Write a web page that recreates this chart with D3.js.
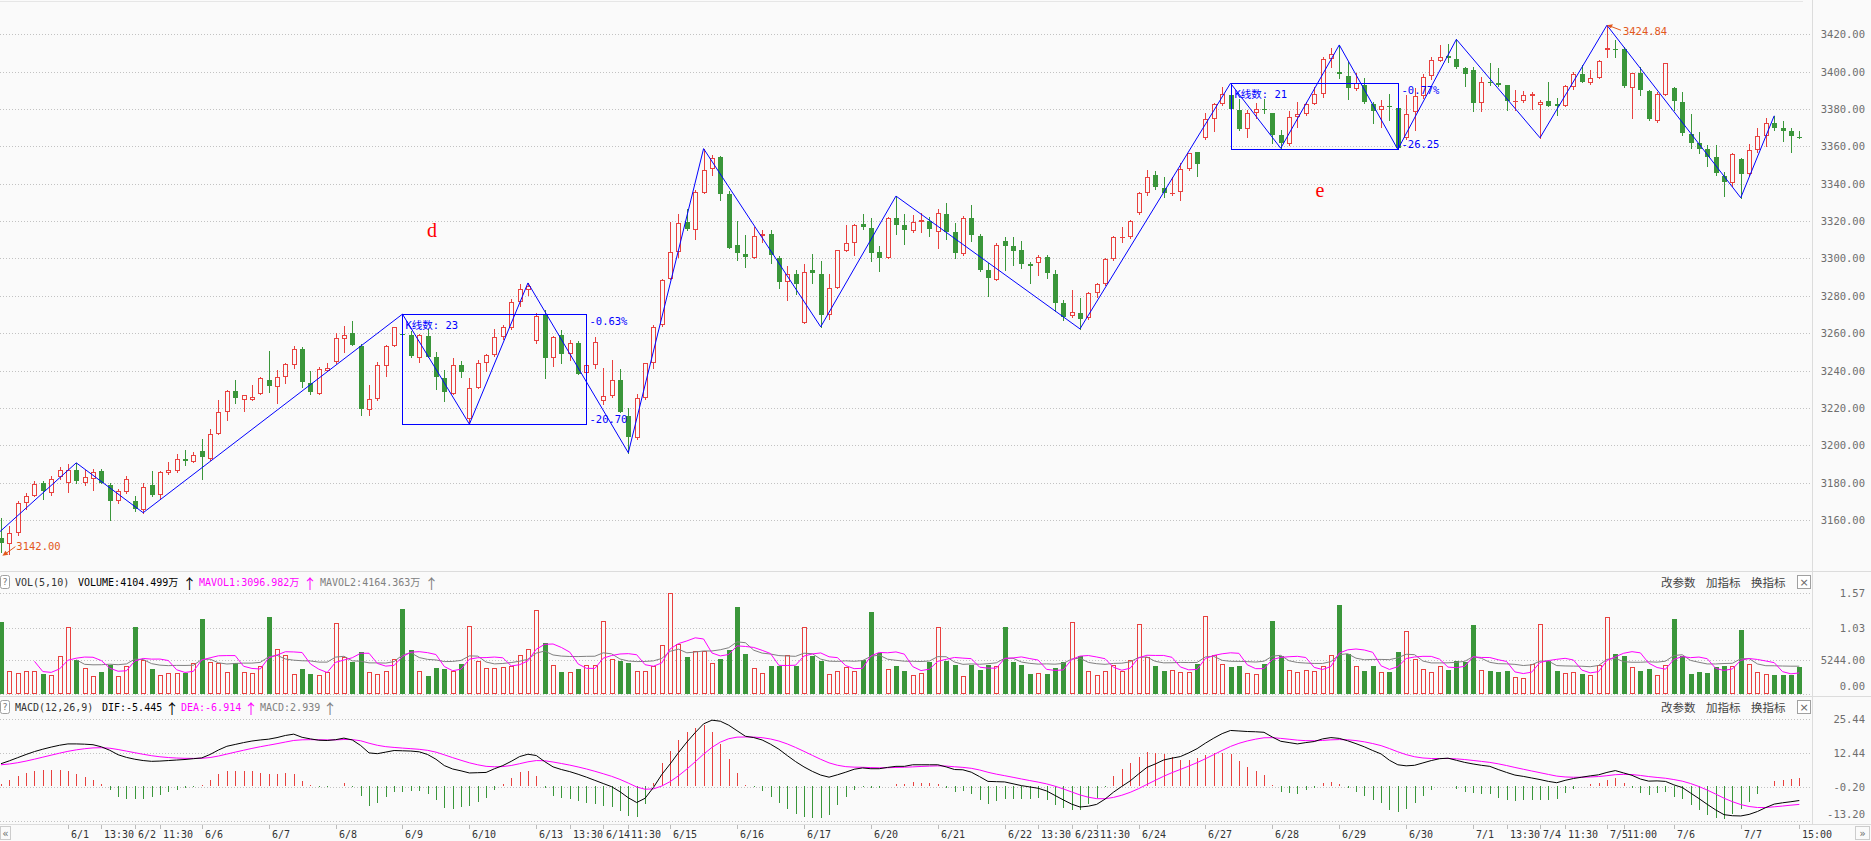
<!DOCTYPE html>
<html><head><meta charset="utf-8">
<script src="https://cdn.jsdelivr.net/npm/d3@7"></script>
<style>
body{margin:0;background:#fafafa;overflow:hidden}
svg{display:block}
</style></head>
<body><svg id="c" width="1871" height="841"></svg>
<script>
// ---------------- DATA (30-minute bars, 5/31 .. 7/7) ----------------
const opens=[3150.2,3147.0,3153.0,3169.0,3173.0,3180.0,3174.6,3182.8,3179.6,3187.0,
3180.0,3182.0,3186.0,3178.7,3170.0,3175.1,3170.1,3165.3,3178.7,3173.3,
3184.9,3186.3,3192.5,3191.1,3196.8,3192.9,3206.2,3218.0,3228.8,3224.4,
3224.4,3227.6,3235.2,3231.1,3236.4,3243.2,3251.7,3233.6,3227.6,3240.0,
3244.4,3256.9,3260.0,3253.3,3219.0,3224.9,3242.7,3253.2,3259.6,3259.2,
3246.8,3258.7,3247.5,3236.1,3227.6,3243.2,3213.8,3230.9,3243.8,3248.2,
3257.7,3262.9,3276.8,3283.0,3255.9,3269.6,3246.5,3258.9,3248.8,3254.8,
3238.8,3242.9,3223.8,3226.3,3235.2,3215.6,3203.7,3225.1,3243.8,3264.3,
3289.2,3303.5,3319.5,3315.4,3335.2,3348.1,3354.3,3334.3,3307.1,3302.6,
3300.5,3312.1,3313.3,3300.5,3287.5,3291.9,3265.5,3293.7,3291.6,3269.6,
3284.4,3304.0,3308.5,3318.3,3316.1,3303.3,3300.5,3321.9,3317.8,3314.9,
3319.7,3320.1,3314.0,3323.8,3314.4,3302.3,3321.5,3312.1,3293.9,3288.5,
3309.4,3306.7,3304.6,3296.9,3297.5,3300.7,3291.6,3276.1,3269.3,3270.7,
3268.0,3281.4,3286.2,3299.6,3310.8,3311.4,3324.2,3334.9,3344.5,3337.6,
3334.4,3335.4,3347.8,3356.9,3364.3,3374.5,3382.7,3387.5,3379.5,3369.2,
3377.7,3380.0,3377.7,3366.0,3361.1,3375.6,3377.2,3382.7,3387.9,3406.6,
3399.7,3397.9,3390.6,3392.9,3382.5,3379.5,3381.6,3380.4,3364.3,3378.2,
3387.0,3397.9,3405.9,3408.4,3407.0,3402.1,3400.9,3383.0,3394.6,3394.1,
3392.9,3384.0,3384.5,3387.1,3382.1,3384.3,3382.5,3381.8,3392.0,3398.6,
3393.8,3396.8,3411.4,3412.1,3412.1,3391.4,3399.5,3389.8,3373.8,3387.5,
3391.4,3383.6,3366.6,3362.0,3358.4,3354.1,3344.3,3340.2,3353.2,3345.0,
3358.0,3365.7,3372.3,3369.6,3368.2,3365.2];
const highs=[3160.9,3157.0,3170.0,3174.2,3181.0,3181.0,3183.5,3188.4,3190.0,3190.6,
3186.7,3187.2,3187.2,3179.6,3176.4,3183.5,3172.8,3179.6,3186.0,3186.0,
3191.1,3195.2,3197.3,3196.4,3203.2,3208.5,3224.4,3229.7,3234.7,3227.0,
3232.0,3236.8,3250.7,3240.5,3243.9,3253.0,3252.8,3239.5,3241.8,3243.9,
3260.1,3263.6,3266.7,3254.2,3232.0,3244.8,3253.7,3263.5,3270.2,3261.3,
3259.6,3262.2,3249.8,3240.5,3246.6,3245.2,3235.8,3245.9,3249.1,3262.0,
3264.3,3278.2,3286.2,3286.9,3270.9,3272.3,3258.6,3261.6,3256.3,3255.9,
3243.8,3257.7,3241.3,3245.6,3240.9,3220.2,3227.7,3244.1,3264.3,3289.2,
3319.5,3323.6,3326.7,3336.5,3358.8,3355.2,3354.7,3336.0,3319.9,3312.4,
3316.9,3315.4,3315.1,3301.2,3295.8,3293.7,3296.9,3302.6,3298.5,3291.9,
3304.6,3317.8,3318.6,3323.6,3321.5,3306.5,3322.1,3333.4,3324.0,3323.3,
3324.6,3322.1,3326.5,3329.6,3318.9,3322.8,3328.7,3313.2,3297.5,3308.2,
3311.4,3311.4,3309.6,3298.0,3301.9,3301.9,3293.9,3277.8,3283.2,3278.7,
3281.9,3286.7,3300.0,3311.9,3316.7,3320.6,3335.8,3347.4,3347.0,3343.8,
3343.8,3351.0,3356.7,3357.0,3377.7,3383.1,3391.6,3393.8,3385.2,3379.5,
3383.1,3385.2,3378.0,3368.8,3379.0,3384.0,3384.0,3392.0,3407.7,3412.5,
3414.3,3405.4,3399.1,3396.5,3383.6,3384.8,3387.9,3380.6,3387.5,3391.4,
3398.6,3408.0,3414.3,3414.6,3417.3,3402.3,3402.7,3397.3,3404.8,3402.1,
3393.1,3390.2,3389.6,3389.3,3384.8,3394.6,3385.7,3392.9,3400.0,3403.6,
3400.9,3406.3,3424.84,3417.0,3413.4,3399.3,3402.7,3390.0,3389.3,3404.7,
3391.6,3388.9,3377.1,3367.5,3360.7,3360.7,3346.4,3356.6,3353.9,3361.1,
3369.6,3375.0,3376.4,3373.6,3369.6,3368.2];
const lows=[3143.0,3142.0,3152.0,3166.0,3173.0,3171.0,3173.3,3182.0,3175.0,3180.0,
3178.7,3176.0,3179.6,3160.0,3168.9,3174.6,3165.0,3163.9,3172.8,3171.6,
3184.5,3185.5,3189.3,3191.0,3181.9,3192.0,3205.8,3213.3,3222.6,3218.3,
3224.0,3227.4,3228.4,3222.6,3233.2,3241.4,3231.1,3227.6,3227.3,3239.5,
3244.0,3250.1,3253.5,3216.0,3216.0,3224.4,3237.3,3253.0,3258.0,3247.4,
3244.4,3247.0,3230.2,3223.6,3227.3,3236.6,3211.3,3230.5,3239.9,3248.0,
3257.1,3262.5,3274.4,3280.3,3254.5,3236.1,3242.7,3243.8,3245.6,3238.0,
3238.5,3241.6,3222.0,3226.0,3217.9,3196.0,3203.5,3225.0,3241.6,3264.0,
3289.0,3300.8,3315.1,3310.6,3335.0,3344.8,3331.5,3305.8,3299.4,3295.5,
3300.3,3308.8,3297.6,3284.4,3278.0,3281.2,3265.2,3286.9,3263.4,3267.8,
3284.2,3303.8,3302.1,3315.6,3298.7,3293.3,3300.3,3313.3,3308.0,3314.4,
3314.4,3312.1,3305.5,3310.3,3300.1,3302.0,3309.1,3293.5,3280.1,3288.3,
3293.9,3296.6,3294.8,3286.8,3290.9,3289.4,3272.1,3267.1,3268.9,3262.3,
3267.8,3279.6,3286.0,3299.4,3308.7,3311.2,3323.7,3334.0,3337.1,3332.8,
3334.0,3331.3,3347.6,3344.4,3363.8,3368.4,3382.2,3379.5,3368.8,3364.9,
3375.1,3378.1,3361.7,3359.0,3360.9,3370.6,3376.8,3382.5,3386.6,3402.7,
3396.5,3385.2,3390.4,3383.4,3372.3,3370.5,3374.1,3358.4,3364.0,3368.8,
3386.1,3395.9,3405.7,3405.4,3402.1,3392.5,3379.1,3379.1,3392.9,3392.3,
3379.5,3379.5,3383.6,3380.0,3364.6,3381.6,3376.8,3381.6,3390.7,3394.4,
3393.6,3396.6,3408.0,3408.0,3392.0,3375.4,3387.5,3374.3,3372.9,3387.3,
3379.5,3366.1,3358.9,3356.6,3349.6,3344.6,3333.6,3339.0,3332.5,3344.8,
3357.1,3360.2,3368.8,3362.9,3357.1,3364.4];
const closes=[3147.9,3153.0,3169.0,3173.0,3179.5,3175.6,3182.0,3186.7,3187.0,3181.0,
3182.8,3185.6,3179.6,3170.3,3175.3,3182.2,3165.7,3177.8,3173.3,3185.6,
3186.7,3192.4,3191.8,3195.0,3193.8,3205.9,3218.0,3228.8,3225.2,3226.7,
3226.1,3236.1,3231.5,3236.4,3243.6,3251.7,3233.8,3228.3,3240.9,3241.4,
3257.4,3259.0,3253.9,3219.6,3224.9,3243.0,3253.0,3263.1,3259.2,3247.6,
3259.2,3247.5,3236.8,3228.4,3243.0,3239.3,3230.9,3243.8,3248.2,3257.7,
3263.4,3276.9,3283.9,3285.5,3269.1,3246.8,3258.0,3249.1,3255.0,3238.4,
3243.2,3255.4,3226.5,3234.9,3217.9,3204.2,3225.1,3243.8,3263.4,3288.7,
3303.5,3319.2,3315.6,3335.6,3347.5,3353.9,3334.7,3305.8,3303.0,3300.8,
3312.2,3313.3,3301.7,3287.5,3291.6,3286.2,3292.8,3292.3,3269.6,3284.4,
3304.4,3308.5,3318.1,3316.9,3303.0,3300.3,3321.9,3317.8,3315.4,3319.7,
3320.6,3315.8,3324.2,3314.4,3302.8,3321.5,3312.3,3293.9,3289.4,3307.3,
3306.9,3304.2,3296.9,3296.2,3300.7,3292.2,3276.4,3268.6,3271.3,3267.7,
3281.4,3286.2,3299.6,3311.7,3311.7,3320.3,3334.9,3343.8,3338.1,3334.9,
3334.9,3347.8,3356.3,3350.4,3374.5,3382.5,3387.9,3379.9,3369.3,3377.7,
3379.9,3379.3,3366.1,3361.7,3375.6,3377.2,3382.7,3387.9,3406.6,3409.3,
3398.6,3391.1,3394.1,3383.6,3379.1,3381.4,3381.1,3358.9,3377.5,3387.0,
3397.3,3406.3,3408.0,3407.1,3402.3,3398.8,3383.4,3394.3,3393.8,3392.9,
3384.3,3384.3,3387.5,3388.0,3383.6,3381.8,3381.8,3392.3,3398.6,3394.6,
3396.8,3405.7,3412.5,3411.6,3392.5,3399.1,3390.2,3374.5,3387.9,3404.5,
3384.3,3367.0,3362.0,3358.6,3354.5,3345.5,3340.7,3355.7,3345.2,3358.0,
3365.5,3372.3,3370.0,3368.4,3365.7,3364.6];
// volume in 万
const volumes=[11171,3602,3236,3602,3602,3132,2975,5951,10388,5220,
4019,2819,3341,4437,2819,4385,10492,5324,3915,2871,
3236,3236,3236,4802,11745,4959,4802,3393,4802,3393,
3236,4385,12058,7047,6003,3080,3915,3080,2975,3393,
11066,5690,4907,6473,3393,3080,3602,5481,13311,6890,
3497,2819,4019,3915,3602,4698,10649,5168,4019,4019,
4124,4280,6107,7047,13154,7934,4541,3393,3393,3863,
4541,4437,11432,5481,5063,4802,3602,3602,4280,7673,
15764,7778,5690,6734,6734,4802,5481,6786,13520,6264,
4019,3236,4280,4280,6107,4280,10388,5951,5063,3080,
3602,4124,3602,5324,12737,6368,3863,4280,3602,2975,
3236,4959,10440,5168,4437,2714,4541,3758,4437,4385,
10388,4907,4541,3132,3236,3132,4019,4959,11223,5951,
3602,2871,3602,4541,3602,5220,10910,5690,4385,3602,
3758,3393,3393,4698,12215,6107,4698,4176,4280,3236,
3080,4698,11327,5951,3758,3393,3758,3602,4280,6107,
13937,6264,4280,3497,4280,3393,3393,6473,9866,5481,
3915,3341,4280,3654,5063,4959,10805,3758,3602,3341,
3602,2610,2453,4698,10962,5063,3602,3236,3393,3080,
2871,4541,12006,6264,5846,4124,3602,3915,2871,4541,
11745,5846,3080,3341,3236,4124,4280,4280,10022,4698,
3393,3080,2975,2975,2975,4104.5];
const difs=[8.5,9.6,10.8,12,13.1,14,14.8,15.5,16,16,
15.9,15.7,14.9,13.6,11.9,10.9,10.2,9.7,9.4,9.5,
9.7,9.9,10.1,10.4,10.7,12,13.7,15.1,15.8,16.5,
17.1,17.5,17.8,18.4,19.2,19.7,18.5,17.9,17.4,17.3,
17.6,18.2,17.5,15.4,12.6,12.3,12.9,13.5,13.4,13.3,
13,12,10.2,7.8,6.5,5.8,5,5.1,5.2,6.6,
7.8,9.4,11.2,12.1,11.6,9.3,7.3,6.3,5.5,4.5,
3.4,2.2,1,-0.2,-2.1,-4.4,-6.2,-4.6,-0.5,4.4,
8.4,12.7,16.7,20.3,23.6,25,24.6,23.1,21,18.9,
18.4,17.5,15.9,14,11.6,9.3,7.3,5.6,4.2,3.4,
4.3,5.3,6.4,6.9,6.6,6.6,7.1,7.5,7.5,8.1,
8.1,8.1,8.1,7.3,6.3,6.2,5.3,3.6,1.8,1.7,
1.6,0.9,0.2,-0.3,-0.8,-1.8,-3.5,-5.2,-6.8,-7.9,
-7.6,-6.9,-4.9,-2.3,-0.1,2,4.6,7.1,8.4,9.9,
10.6,11.2,12.6,14.2,16.3,18.2,19.9,21.1,20.9,20.7,
20.6,20.4,18.6,17,16.5,16,16.5,16.9,17.9,18.4,
18.1,17.2,16.1,14.9,13.5,12.2,9.8,8.1,7.7,7.9,
8.8,9.7,10.4,10.6,9.8,9,8.4,7.9,7.5,6.3,
5.2,4.2,3.7,3.1,2.5,1.8,1.3,2.2,2.9,3.4,
3.9,4.3,5.2,5.9,5,4.1,2.7,1.9,2,1.8,
0.5,-0.5,-2.6,-4.7,-6.9,-9,-10.8,-11.2,-11.3,-10.7,
-9.6,-8.1,-6.8,-6.3,-5.9,-5.445];
const deas=[8.1,8.4,8.88,9.5,10.22,10.98,11.74,12.49,13.19,13.75,
14.18,14.49,14.57,14.38,13.88,13.28,12.67,12.07,11.54,11.13,
10.84,10.65,10.54,10.51,10.55,10.84,11.41,12.15,12.88,13.6,
14.3,14.94,15.51,16.09,16.71,17.31,17.55,17.62,17.58,17.52,
17.54,17.67,17.64,17.19,16.27,15.48,14.96,14.67,14.42,14.2,
13.96,13.57,12.89,11.87,10.8,9.8,8.84,8.09,7.51,7.33,
7.42,7.82,8.5,9.22,9.69,9.62,9.15,8.58,7.97,7.27,
6.5,5.64,4.71,3.73,2.56,1.17,-0.31,-1.17,-1.03,0.05,
1.72,3.92,6.47,9.24,12.11,14.69,16.67,17.96,18.57,18.63,
18.59,18.37,17.87,17.1,16,14.66,13.19,11.67,10.17,8.82,
7.92,7.39,7.2,7.14,7.03,6.95,6.98,7.08,7.17,7.3,
7.46,7.59,7.69,7.61,7.35,7.12,6.76,6.13,5.26,4.55,
3.96,3.35,2.72,2.12,1.53,0.87,0,-1.04,-2.19,-3.33,
-4.18,-4.73,-4.76,-4.27,-3.44,-2.35,-0.96,0.65,2.2,3.74,
5.11,6.33,7.58,8.91,10.39,11.95,13.54,15.05,16.22,17.12,
17.81,18.33,18.38,18.1,17.78,17.43,17.24,17.18,17.32,17.54,
17.65,17.56,17.27,16.79,16.14,15.35,14.24,13.01,11.95,11.14,
10.67,10.48,10.46,10.49,10.35,10.08,9.74,9.38,9,8.46,
7.81,7.09,6.41,5.75,5.1,4.44,3.81,3.49,3.37,3.38,
3.48,3.64,3.96,4.34,4.48,4.4,4.06,3.63,3.3,3,
2.5,1.9,1,-0.14,-1.49,-3,-4.56,-5.88,-6.97,-7.71,
-8.09,-8.09,-7.83,-7.53,-7.2,-6.914];
const priceTicks=[3160,3180,3200,3220,3240,3260,3280,3300,3320,3340,3360,3380,3400,3420];
const volTicks=[15700,10300,5244,0];
const volTickLabels=["1.57","1.03","5244.00","0.00"];
const macdTicks=[25.44,12.44,-0.20,-13.20];
const macdTickLabels=["25.44","12.44","-0.20","-13.20"];
const timeLabels=["6/1","13:30","6/2","11:30","6/6","6/7","6/8","6/9","6/10","6/13","13:30","6/14","11:30","6/15","6/16","6/17","6/20","6/21","6/22","13:30","6/23","11:30","6/24","6/27","6/28","6/29","6/30","7/1","13:30","7/4","11:30","7/5","11:00","7/6","7/7","15:00"];
const timeLabelIdx=[8,12,16,19,24,32,40,48,56,64,68,72,75,80,88,96,104,112,120,124,128,131,136,144,152,160,168,176,180,184,187,192,194,200,208,215];
// wave (zigzag) turning points: bar index and price
const waveIdx=[-0.12,9,17,48,56,63,75,84,98,107,129,147,153,160,167,174,184,192,208,212];
const wavePrice=[3153.8,3190.6,3163.9,3270.2,3211.3,3286.9,3196.0,3358.8,3263.4,3333.4,3262.3,3393.8,3359.0,3414.3,3358.4,3417.3,3364.6,3424.84,3332.5,3376.4];
// measured boxes
const boxStart=[48,147], boxEnd=[70,167], boxTop=[3270.2,3393.8], boxBottom=[3211.3,3358.4];
const boxCount=["K线数: 23","K线数: 21"], boxPct=["-0.63%","-0.77%"], boxDiff=["-20.70","-26.25"];
const volHeader=[["VOL(5,10)","#333"],["VOLUME:4104.499万","#000"],["↑","#000"],["MAVOL1:3096.982万","#ff00ff"],["↑","#ff00ff"],["MAVOL2:4164.363万","#808080"],["↑","#808080"]];
const macdHeader=[["MACD(12,26,9)","#333"],["DIF:-5.445","#000"],["↑","#000"],["DEA:-6.914","#ff00ff"],["↑","#ff00ff"],["MACD:2.939","#808080"],["↑","#808080"]];
const toolLabels=["改参数","加指标","换指标"];

// ---------------- DRAW ----------------
const svg=d3.select("#c");
const BG="#fafafa", RED="#e8413f", GREEN="#3a963a", GRID="#c2c2c2";
const MONO="'DejaVu Sans Mono','Noto Sans CJK SC',monospace";
const CJK="'Noto Sans CJK SC',sans-serif";
const N=opens.length;
const x=d3.scaleLinear().domain([0,N-1]).range([1,1799.3]);
const yP=d3.scaleLinear().domain([3160,3420]).range([520,34.3]);
const yV=d3.scaleLinear().domain([0,15700]).range([693.5,593.3]);
const yM=d3.scaleLinear().domain([-13.2,25.44]).range([821,719]);
const cx=i=>Math.round(x(i));

svg.append("rect").attr("width",1871).attr("height",841).attr("fill",BG);
const defs=svg.append("defs");
defs.append("clipPath").attr("id","cm").append("rect").attr("x",0).attr("y",0).attr("width",1812).attr("height",571);
defs.append("clipPath").attr("id","cv").append("rect").attr("x",0).attr("y",572).attr("width",1812).attr("height",124);
defs.append("clipPath").attr("id","cd").append("rect").attr("x",0).attr("y",697).attr("width",1812).attr("height",127);

// frame lines
const frame=svg.append("g").attr("stroke","#dcdcdc").attr("shape-rendering","crispEdges");
frame.append("line").attr("x1",0).attr("x2",1803).attr("y1",1.5).attr("y2",1.5).attr("stroke","#e6e6e6");
frame.append("line").attr("x1",0).attr("x2",1871).attr("y1",571.5).attr("y2",571.5);
frame.append("line").attr("x1",0).attr("x2",1871).attr("y1",696.5).attr("y2",696.5);
frame.append("line").attr("x1",0).attr("x2",1871).attr("y1",824.5).attr("y2",824.5);
frame.append("line").attr("x1",1812.5).attr("x2",1812.5).attr("y1",0).attr("y2",825);

// grid lines
const grid=svg.append("g").attr("stroke",GRID).attr("stroke-dasharray","1,2").attr("shape-rendering","crispEdges");
priceTicks.forEach(p=>grid.append("line").attr("x1",0).attr("x2",1811).attr("y1",Math.round(yP(p))+0.5).attr("y2",Math.round(yP(p))+0.5));
volTicks.forEach(v=>grid.append("line").attr("x1",0).attr("x2",1811).attr("y1",Math.round(yV(v))+0.5).attr("y2",Math.round(yV(v))+0.5));
macdTicks.forEach(v=>grid.append("line").attr("x1",0).attr("x2",1811).attr("y1",Math.round(yM(v))+0.5).attr("y2",Math.round(yM(v))+0.5));

// axis labels (right)
const ax=svg.append("g").attr("font-family",MONO).attr("font-size","10.5px").attr("fill","#6e6e6e").attr("text-anchor","end");
priceTicks.forEach(p=>ax.append("text").attr("x",1865).attr("y",yP(p)).attr("dominant-baseline","central").text(p.toFixed(2)));
volTicks.forEach((v,k)=>ax.append("text").attr("x",1865).attr("y",v===0?yV(v)-8:yV(v)).attr("dominant-baseline","central").text(volTickLabels[k]));
macdTicks.forEach((v,k)=>ax.append("text").attr("x",1865).attr("y",k===3?yM(v)-7:yM(v)).attr("dominant-baseline","central").text(macdTickLabels[k]));

// ---- candles ----
const main=svg.append("g").attr("clip-path","url(#cm)").attr("shape-rendering","crispEdges");
for(let i=0;i<N;i++){
  const up=closes[i]>=opens[i];
  const col=up?RED:GREEN;
  const c=cx(i);
  const yt=Math.round(yP(Math.max(opens[i],closes[i])));
  const yb=Math.round(yP(Math.min(opens[i],closes[i])));
  main.append("line").attr("x1",c+0.5).attr("x2",c+0.5).attr("y1",Math.round(yP(highs[i]))).attr("y2",Math.round(yP(lows[i]))+1).attr("stroke",col);
  if(yb-yt<2){
    main.append("rect").attr("x",c-2).attr("y",yt).attr("width",5).attr("height",Math.max(1,yb-yt)).attr("fill",col);
  } else if(up){
    main.append("rect").attr("x",c-1.5).attr("y",yt+0.5).attr("width",4).attr("height",yb-yt-1).attr("fill",BG).attr("stroke",col);
  } else {
    main.append("rect").attr("x",c-2).attr("y",yt).attr("width",5).attr("height",yb-yt).attr("fill",col);
  }
}
// wave line
const wave=d3.line().x((d,k)=>x(waveIdx[k])).y((d,k)=>yP(wavePrice[k]));
main.append("path").attr("d",wave(waveIdx)).attr("fill","none").attr("stroke","#0000ff").attr("stroke-width",1).attr("shape-rendering","auto");
// boxes
const ann=svg.append("g").attr("clip-path","url(#cm)");
boxStart.forEach((s,k)=>{
  const x0=Math.round(x(s))+0.5, x1=Math.round(x(boxEnd[k]))+0.5;
  const y0=Math.round(yP(boxTop[k]))+0.5, y1=Math.round(yP(boxBottom[k]))+0.5;
  ann.append("rect").attr("x",x0).attr("y",y0).attr("width",x1-x0).attr("height",y1-y0).attr("fill","none").attr("stroke","#0000ff").attr("shape-rendering","crispEdges");
  ann.append("text").attr("x",x0+3).attr("y",y0+10).attr("dominant-baseline","central").attr("font-family",MONO).attr("font-size","10.5px").attr("fill","#0000ff").text(boxCount[k]);
  ann.append("text").attr("x",x1+3).attr("y",y0+6).attr("dominant-baseline","central").attr("font-family",MONO).attr("font-size","10.5px").attr("fill","#0000ff").text(boxPct[k]);
  ann.append("text").attr("x",x1+3).attr("y",y1-6).attr("dominant-baseline","central").attr("font-family",MONO).attr("font-size","10.5px").attr("fill","#0000ff").text(boxDiff[k]);
});
// wave names
ann.append("text").attr("x",432).attr("y",230).attr("text-anchor","middle").attr("dominant-baseline","central").attr("font-family","'Liberation Serif',serif").attr("font-size","20px").attr("fill","#ff0000").text("d");
ann.append("text").attr("x",1320).attr("y",190).attr("text-anchor","middle").attr("dominant-baseline","central").attr("font-family","'Liberation Serif',serif").attr("font-size","20px").attr("fill","#ff0000").text("e");
// extreme markers
const ORANGE="#e2581c";
const lowI=d3.minIndex(lows), highI=d3.maxIndex(highs);
{
  const px=x(lowI), py=yP(lows[lowI]);
  ann.append("line").attr("x1",px-5).attr("y1",py+1).attr("x2",px+6).attr("y2",py-7).attr("stroke",ORANGE);
  ann.append("path").attr("d",`M${px-7},${py+2} l6,-1 l-3,-4 z`).attr("fill",ORANGE);
  ann.append("text").attr("x",px+7).attr("y",py-8).attr("dominant-baseline","central").attr("font-family",MONO).attr("font-size","10.5px").attr("fill",ORANGE).text(lows[lowI].toFixed(2));
}
{
  const px=x(highI), py=yP(highs[highI]);
  ann.append("line").attr("x1",px+1).attr("y1",py).attr("x2",px+14).attr("y2",py+5).attr("stroke",ORANGE);
  ann.append("path").attr("d",`M${px},${py} l6,-1 l-2,4 z`).attr("fill",ORANGE);
  ann.append("text").attr("x",px+16).attr("y",py+6).attr("dominant-baseline","central").attr("font-family",MONO).attr("font-size","10.5px").attr("fill",ORANGE).text(highs[highI].toFixed(2));
}

// ---- volume ----
const vg=svg.append("g").attr("clip-path","url(#cv)").attr("shape-rendering","crispEdges");
const vb=Math.round(yV(0));
volumes.forEach((v,i)=>{
  const up=closes[i]>=opens[i];
  const c=cx(i), yt=Math.round(yV(v));
  if(up) vg.append("rect").attr("x",c-1.5).attr("y",yt+0.5).attr("width",4).attr("height",vb-yt-1).attr("fill",BG).attr("stroke",RED);
  else vg.append("rect").attr("x",c-2).attr("y",yt).attr("width",5).attr("height",vb-yt).attr("fill",GREEN);
});
function ma(arr,n){return arr.map((v,i)=>i<n-1?null:d3.mean(arr.slice(i-n+1,i+1)));}
const ma5=ma(volumes,5), ma10=ma(volumes,10);
const vline=d3.line().defined(d=>d!==null).x((d,i)=>x(i)).y(d=>yV(d));
const vl=svg.append("g").attr("clip-path","url(#cv)");
vl.append("path").attr("d",vline(ma10)).attr("fill","none").attr("stroke","#808080");
vl.append("path").attr("d",vline(ma5)).attr("fill","none").attr("stroke","#ff00ff");

// ---- MACD ----
const mg=svg.append("g").attr("clip-path","url(#cd)").attr("shape-rendering","crispEdges");
const y0=Math.round(yM(0));
difs.forEach((d,i)=>{
  const h=2*(d-deas[i]);
  const c=cx(i)+0.5;
  mg.append("line").attr("x1",c).attr("x2",c).attr("y1",y0).attr("y2",Math.round(yM(h))).attr("stroke",h>=0?RED:GREEN);
});
const ml=d3.line().x((d,i)=>x(i)).y(d=>yM(d));
const mlg=svg.append("g").attr("clip-path","url(#cd)");
mlg.append("path").attr("d",ml(deas)).attr("fill","none").attr("stroke","#ff00ff");
mlg.append("path").attr("d",ml(difs)).attr("fill","none").attr("stroke","#000");

// ---- headers ----
function header(items,starts,yc){
  const g=svg.append("g");
  g.append("rect").attr("x",0.5).attr("y",yc-6.5).attr("width",9).attr("height",13).attr("rx",2).attr("fill","#fff").attr("stroke","#a0a0a0");
  g.append("text").attr("x",5).attr("y",yc).attr("text-anchor","middle").attr("dominant-baseline","central").attr("font-family",MONO).attr("font-size","9px").attr("fill","#777").text("?");
  items.forEach(([t,c],k)=>{
    const isArrow=t==="↑";
    const el=g.append("text").attr("x",starts[k]).attr("y",isArrow?yc+0.5:yc).attr("dominant-baseline","central")
      .attr("text-anchor",isArrow?"middle":"start")
      .attr("font-family",isArrow?CJK:MONO).attr("font-size",isArrow?"14px":"10px").attr("fill",c).text(t);
    if(!isArrow && k+1<starts.length){
      const avail=starts[k+1]-starts[k]-(items[k+1][0]==="↑"?6:7);
      if(el.node().getComputedTextLength()>avail) el.attr("textLength",avail).attr("lengthAdjust","spacingAndGlyphs");
    }
  });
  let tx=1661;
  toolLabels.forEach(t=>{g.append("text").attr("x",tx).attr("y",yc).attr("dominant-baseline","central").attr("font-family",CJK).attr("font-size","11.5px").attr("fill","#444").text(t);tx+=45;});
  g.append("rect").attr("x",1797.5).attr("y",yc-6.5).attr("width",13).attr("height",13).attr("fill","#fff").attr("stroke","#a0a0a0");
  g.append("text").attr("x",1804).attr("y",yc).attr("text-anchor","middle").attr("dominant-baseline","central").attr("font-family","'DejaVu Sans',sans-serif").attr("font-size","11px").attr("fill","#666").text("×");
}
header(volHeader,[15,78,189.5,199,310,320,431.5],582);
header(macdHeader,[15,102,172,181,251,260,330],707);

// ---- time axis ----
const tg=svg.append("g").attr("font-family",MONO).attr("font-size","10px").attr("fill","#333");
const tickIdx=new Set(timeLabelIdx);
for(let d=1;d<27;d++) tickIdx.add(d*8);
[...tickIdx].forEach(i=>tg.append("line").attr("x1",cx(i)+0.5).attr("x2",cx(i)+0.5).attr("y1",825).attr("y2",829).attr("stroke","#bbb").attr("shape-rendering","crispEdges"));
timeLabels.forEach((t,k)=>tg.append("text").attr("x",cx(timeLabelIdx[k])+3).attr("y",834).attr("dominant-baseline","central").text(t));
tg.append("rect").attr("x",0.5).attr("y",826.5).attr("width",10).attr("height",13).attr("fill","none").attr("stroke","#ccc");
tg.append("text").attr("x",5.5).attr("y",833).attr("text-anchor","middle").attr("dominant-baseline","central").attr("fill","#666").text("«");
tg.append("rect").attr("x",1855.5).attr("y",826.5).attr("width",14).attr("height",13).attr("fill","none").attr("stroke","#ccc");
tg.append("text").attr("x",1862.5).attr("y",833).attr("text-anchor","middle").attr("dominant-baseline","central").attr("fill","#666").text("»");
</script>
</body></html>
